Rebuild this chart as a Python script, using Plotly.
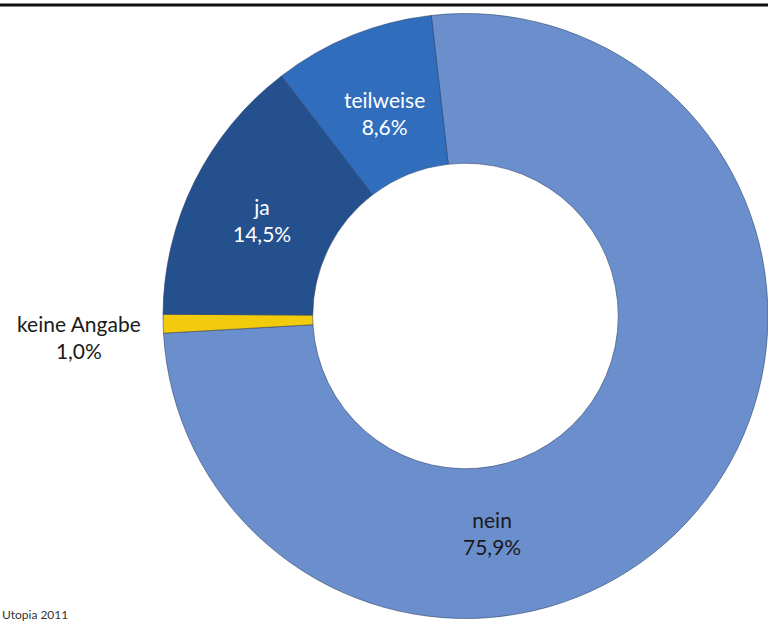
import plotly.graph_objects as go

# Survey answers and shares (percent)
labels = ["nein", "keine Angabe", "ja", "teilweise"]
values = [75.9, 1.0, 14.5, 8.6]
colors = ["#6b8ecc", "#f2cc0c", "#24508d", "#306ebd"]
text_colors = ["#1a1a1a", "#1a1a1a", "#ffffff", "#ffffff"]
# Label block centres in pixels (x, y from top-left)
label_spots = [(492, 533), (79, 337), (262, 220), (384, 113)]
source_note = "Utopia 2011"

W, H = 768, 624
FONT = "Lato, 'Open Sans', sans-serif"

fig = go.Figure(
    go.Pie(
        labels=labels,
        values=values,
        hole=0.505,
        sort=False,
        direction="clockwise",
        rotation=-6.5,
        marker=dict(colors=colors, line=dict(color="rgba(40,60,100,0.55)", width=1)),
        textinfo="none",
        showlegend=False,
        hoverinfo="label+value",
        domain=dict(x=[163 / W, 1.0], y=[1 - 619 / H, 1 - 13 / H]),
    )
)

# Category name and share for every slice
for name, val, col, (px, py) in zip(labels, values, text_colors, label_spots):
    fig.add_annotation(
        x=px / W, y=1 - py / H, xref="paper", yref="paper",
        xanchor="center", yanchor="middle",
        text=f"{name}<br>{val:.1f}%".replace(".", ","),
        showarrow=False,
        font=dict(family=FONT, size=21, color=col),
        align="center",
    )

fig.add_annotation(
    x=0, y=0, xref="paper", yref="paper",
    xanchor="left", yanchor="bottom",
    text=source_note, showarrow=False,
    font=dict(family=FONT, size=12, color="#333333"),
)

# Rule across the top
fig.add_shape(type="line", xref="paper", yref="paper",
              x0=0, x1=1, y0=1 - 5 / H, y1=1 - 5 / H,
              line=dict(color="#111111", width=3))

fig.update_layout(
    width=W, height=H,
    margin=dict(l=0, r=0, t=0, b=0),
    paper_bgcolor="white",
    plot_bgcolor="white",
)

fig.write_html("out.html")
